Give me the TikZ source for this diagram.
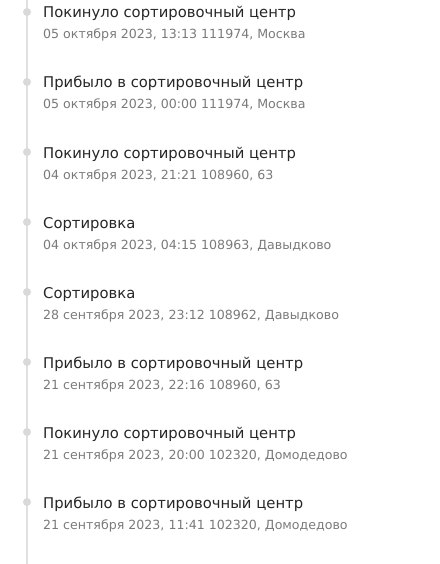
\documentclass[tikz,border=0pt]{standalone}
\usepackage{fontspec}
\setmainfont{DejaVu Sans}
\usetikzlibrary{positioning}

\tikzset{
  rail/.style={draw=black!12, line width=2pt},
  dot/.style={circle, fill=black!15, inner sep=0pt, minimum size=8pt},
  evtitle/.style={anchor=base west, inner sep=0pt, text=black!85, font=\fontsize{14.8}{16}\selectfont},
  evsub/.style={anchor=base west, inner sep=0pt, text=black!52, font=\fontsize{12.6}{14}\selectfont}
}

\begin{document}
\begin{tikzpicture}[x=1pt, y=-1pt]
  \useasboundingbox (0,0) rectangle (439,564);
  % timeline rail
  \coordinate (top) at (27,0);
  \coordinate (bottom) at (27,564);
  \draw[rail] (top) -- (bottom);
  % events, newest first
  \foreach \t/\s [count=\i] in {
      {Покинуло сортировочный центр}/{05 октября 2023, 13:13 111974, Москва},
      {Прибыло в сортировочный центр}/{05 октября 2023, 00:00 111974, Москва},
      {Покинуло сортировочный центр}/{04 октября 2023, 21:21 108960, 63},
      {Сортировка}/{04 октября 2023, 04:15 108963, Давыдково},
      {Сортировка}/{28 сентября 2023, 23:12 108962, Давыдково},
      {Прибыло в сортировочный центр}/{21 сентября 2023, 22:16 108960, 63},
      {Покинуло сортировочный центр}/{21 сентября 2023, 20:00 102320, Домодедово},
      {Прибыло в сортировочный центр}/{21 сентября 2023, 11:41 102320, Домодедово}} {
    \node[dot] (dot\i) at (27,{12+70*(\i-1)}) {};
    \node[evtitle] (title\i) at (43,{18+70*(\i-1)}) {\t};
    \node[evsub] (sub\i) at (43,{39+70*(\i-1)}) {\s};
  }
\end{tikzpicture}
\end{document}
